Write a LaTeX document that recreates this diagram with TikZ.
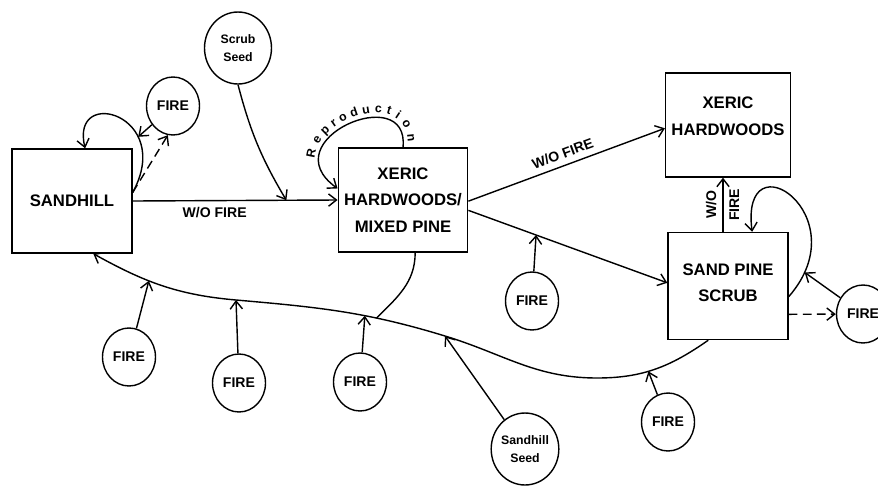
\documentclass[tikz,border=0pt]{standalone}
\usepackage{fontspec}
\setsansfont{Liberation Sans}
\usetikzlibrary{positioning,calc,arrows.meta,shapes.geometric,decorations.text}

\begin{document}
\begin{tikzpicture}[x=0.02cm, y=-0.02cm, thick, font=\sffamily\bfseries,
          flow/.style={-{Straight Barb[length=4.5pt,width=7pt]}},
          fireline/.style={dash pattern=on 5pt off 3pt},
          comm/.style={draw, minimum width=2.4cm, minimum height=2.08cm, align=center,
                       font=\sffamily\bfseries\fontsize{9.5}{15}\selectfont},
          fire/.style={draw, ellipse, minimum width=1.06cm, minimum height=1.16cm,
                       inner sep=0pt, font=\sffamily\bfseries\fontsize{8}{10}\selectfont},
          seed/.style={draw, ellipse, minimum width=1.34cm, minimum height=1.44cm,
                       inner sep=0pt, align=center,
                       font=\sffamily\bfseries\fontsize{7}{10}\selectfont},
          lbl/.style={font=\sffamily\bfseries\fontsize{8}{10}\selectfont}]
        \useasboundingbox (0,0) rectangle (878,487);
        % communities
        \node[comm] (sandhill) at (72,201) {SANDHILL};
        \node[comm, minimum width=2.48cm] (xhmp) at (403,200) {XERIC\\HARDWOODS/\\MIXED PINE};
        \node[comm] (xh) at (728,125) {XERIC\\HARDWOODS\\[-5pt]~};
        \node[comm, minimum height=2.14cm] (sps) at (728,286) {SAND PINE\\SCRUB\\[-11pt]~};
        % inputs
        \node[seed] (scrubseed) at (238,48)  {Scrub\\Seed};
        \node[seed] (hillseed)  at (525,449) {Sandhill\\Seed};
        \node[fire] (fireS) at (173,106) {FIRE};
        \node[fire] (fireM) at (532,301) {FIRE};
        \node[fire] (fireR) at (863,314) {FIRE};
        \node[fire] (fireA) at (129,357) {FIRE};
        \node[fire] (fireB) at (239,383) {FIRE};
        \node[fire] (fireC) at (360,382) {FIRE};
        \node[fire] (fireD) at (668,422) {FIRE};

        % succession without fire
        \draw[flow] (sandhill.east) -- coordinate[pos=0.75] (seedin) (xhmp.west)
          node[lbl, below, pos=0.4] {W/O FIRE};
        \draw[flow] (scrubseed.south) to[bend right=8] (seedin);
        \draw[flow] (xhmp.-1) -- (xh.183) node[lbl, above, sloped, pos=0.5] {W/O FIRE};
        \draw[flow] (xhmp.-9) -- coordinate[pos=0.34] (fireMin) (sps.177);
        \draw[flow] (fireM) -- (fireMin);
        \draw[flow] ([xshift=-0.1cm]sps.north) -- ([xshift=-0.1cm]xh.south)
          node[lbl, midway, rotate=90, above] {W/O}
          node[lbl, midway, rotate=90, below] {FIRE};

        % self loops
        \draw[flow] (sandhill.8) .. controls (175,115) and (70,85) .. (sandhill.76)
          coordinate[pos=0.3] (loopS);
        \draw[flow] (fireS) -- (loopS);
        \draw[flow, fireline] (sandhill.8) -- (fireS.260);
        \draw[flow] (xhmp.north) .. controls (410,80) and (270,140) .. (xhmp.170);
        \path[decorate, decoration={text along path, raise=2.5pt,
              text={|\sffamily\bfseries\fontsize{7}{8}\selectfont|Reproduction},
              text align={left indent=0.72cm, right indent=0.1cm, fit to path}}]
          (xhmp.170) .. controls (270,140) and (410,80) .. (xhmp.north);
        \draw[flow] (sps.-10) .. controls (860,215) and (740,135) .. (sps.66)
          coordinate[pos=0.1] (loopR);
        \draw[flow] (fireR) -- (loopR);
        \draw[flow, fireline] (sps.-25) -- (fireR);

        % return to sandhill
        \draw[flow] (sps.250) to[out=215, in=0] coordinate[pos=0.57] (fireDin) (597,378)
          to[out=180, in=-17] (445,336) coordinate (seedjoin)
          to[out=163, in=-5] coordinate[pos=0.32] (mixjoin) coordinate[pos=0.38] (fireCin)
             (236,300) coordinate (fireBin)
          to[out=175, in=-29] coordinate[pos=0.6] (fireAin) (sandhill.292);
        \draw (xhmp.283) to[out=-90, in=45] (mixjoin);
        \draw[flow] (hillseed) -- (seedjoin);
        \foreach \f in {A,B,C,D}
          \draw[flow] (fire\f) -- (fire\f in);
\end{tikzpicture}
\end{document}
